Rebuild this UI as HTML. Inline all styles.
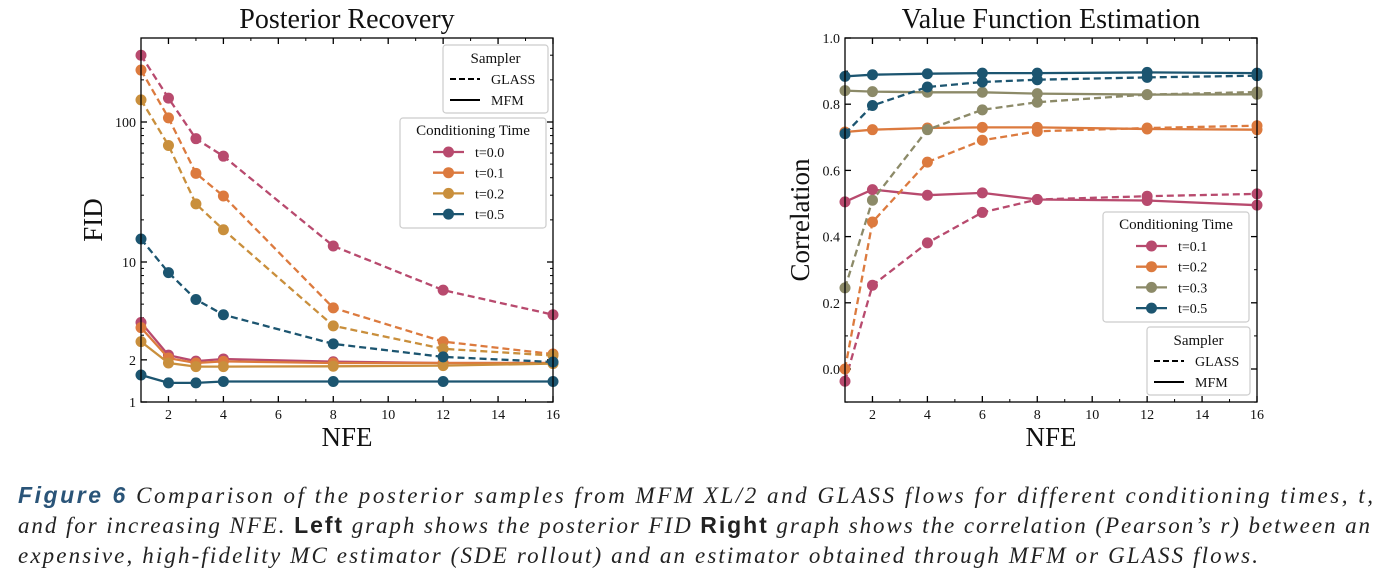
<!DOCTYPE html>
<html><head><meta charset="utf-8"><style>
body{margin:0;background:#fff}
svg{display:block;font-family:"Liberation Serif",serif}
</style></head><body>
<svg id="fig" width="1388" height="578" viewBox="0 0 1388 578" xmlns="http://www.w3.org/2000/svg">
<g id="left"></g>
<g id="right"></g>
<g font-size="23" font-style="italic" fill="#222" font-family="Liberation Serif, serif">
<text x="18" y="503" textLength="1355" lengthAdjust="spacing"><tspan font-family="Liberation Sans, sans-serif" font-weight="bold" fill="#2a5478">Figure 6</tspan>   Comparison of the posterior samples from MFM XL/2 and GLASS flows for different conditioning times, t,</text>
<text x="18" y="533" textLength="1352" lengthAdjust="spacing">and for increasing NFE. <tspan font-family="Liberation Sans, sans-serif" font-weight="bold" font-style="normal">Left</tspan> graph shows the posterior FID <tspan font-family="Liberation Sans, sans-serif" font-weight="bold" font-style="normal">Right</tspan> graph shows the correlation (Pearson’s r) between an</text>
<text x="18" y="563" textLength="1240" lengthAdjust="spacing">expensive, high-fidelity MC estimator (SDE rollout) and an estimator obtained through MFM or GLASS flows.</text>
</g>
</svg>
<script>
const nfeL=[1,2,3,4,8,12,16];
const leftLabels=["t=0.0","t=0.1","t=0.2","t=0.5"];
const leftGlass=[[300,148,76,57,13,6.3,4.2],[235,107,43,29.6,4.7,2.7,2.2],[144,68,26,17,3.5,2.4,2.15],[14.6,8.4,5.4,4.2,2.6,2.1,1.93]];
const leftMfm=[[3.7,2.16,1.96,2.03,1.94,1.9,1.9],[3.4,2.06,1.9,1.95,1.9,1.9,1.9],[2.7,1.9,1.79,1.79,1.8,1.82,1.88],[1.56,1.37,1.37,1.4,1.4,1.4,1.4]];
const leftColors=["#b84a6e","#dc7a3e","#c98f3c","#1c5570"];
const nfeR=[1,2,4,6,8,12,16];
const rightLabels=["t=0.1","t=0.2","t=0.3","t=0.5"];
const rightGlass=[[-0.037,0.253,0.381,0.473,0.512,0.522,0.529],[0.0,0.444,0.625,0.691,0.718,0.728,0.735],[0.245,0.51,0.723,0.783,0.806,0.829,0.837],[0.711,0.796,0.852,0.867,0.874,0.881,0.886]];
const rightMfm=[[0.505,0.542,0.525,0.532,0.512,0.509,0.495],[0.716,0.723,0.728,0.73,0.73,0.725,0.723],[0.841,0.838,0.836,0.836,0.832,0.829,0.83],[0.884,0.889,0.892,0.894,0.894,0.896,0.894]];
const rightColors=["#b84a6e","#dc7a3e","#8c8a68","#1c5570"];
const xTicks=[2,4,6,8,10,12,14,16];
const NS="http://www.w3.org/2000/svg";
function mk(p,tag,at){const e=document.createElementNS(NS,tag);for(const k in at)e.setAttribute(k,at[k]);p.appendChild(e);return e;}
function txt(p,x,y,s,size,anchor,extra){const t=mk(p,"text",Object.assign({x:x,y:y,"font-size":size,"text-anchor":anchor||"middle",fill:"#111"},extra||{}));t.textContent=s;return t;}

function chart(g,o){
  const X=v=>o.x0+(v-1)/(15)*(o.x1-o.x0);
  const Y=o.Y;
  xTicks.forEach(v=>{const x=X(v);
    const l=mk(g,"line",{x1:x,x2:x,y1:o.y1,y2:o.y1-6,stroke:"#000","stroke-width":1.3});
    
    
    mk(g,"line",{x1:x,x2:x,y1:o.y0,y2:o.y0+6,stroke:"#000","stroke-width":1.3});
    const t=txt(g,x,o.y1+17,String(v),14);
    
    
  });
  for(let v=1;v<=16;v++){if(v%2===1){const x=X(v);mk(g,"line",{x1:x,x2:x,y1:o.y1,y2:o.y1-3,stroke:"#000"});mk(g,"line",{x1:x,x2:x,y1:o.y0,y2:o.y0+3,stroke:"#000"});}}
  o.yTicks.forEach(tk=>{const y=Y(tk.v);
    mk(g,"line",{x1:o.x0,x2:o.x0+6,y1:y,y2:y,stroke:"#000","stroke-width":1.3});
    mk(g,"line",{x1:o.x1,x2:o.x1-6,y1:y,y2:y,stroke:"#000","stroke-width":1.3});
    const t=txt(g,o.x0-5,y+5,tk.s,14,"end");
    
    
  });
  (o.minor||[]).forEach(v=>{const y=Y(v);mk(g,"line",{x1:o.x0,x2:o.x0+3,y1:y,y2:y,stroke:"#000"});mk(g,"line",{x1:o.x1,x2:o.x1-3,y1:y,y2:y,stroke:"#000"});});
  const cp=mk(g,"clipPath",{id:o.id+"clip"});mk(cp,"rect",{x:o.x0-8,y:o.y0,width:o.x1-o.x0+16,height:o.y1-o.y0});
  const sg=mk(g,"g",{"clip-path":"url(#"+o.id+"clip)"});
  function series(vals,color,dash,name){
    const pts=vals.map((v,i)=>X(o.nfe[i]).toFixed(1)+","+Y(v).toFixed(1)).join(" ");
    const pl=mk(sg,"polyline",{points:pts,fill:"none",stroke:color,"stroke-width":2.3,"stroke-dasharray":dash?"7,4":"none"});
    
    
    vals.forEach((v,i)=>{const c=mk(sg,"circle",{cx:X(o.nfe[i]),cy:Y(v),r:5.5,fill:color});
      
      });
  }
  o.mfm.forEach((s,k)=>series(s,o.colors[k],false,"mfm-"+o.labels[k]));
  o.glass.forEach((s,k)=>series(s,o.colors[k],true,"glass-"+o.labels[k]));
  const fr=mk(g,"rect",{x:o.x0,y:o.y0,width:o.x1-o.x0,height:o.y1-o.y0,fill:"none",stroke:"#000","stroke-width":1.3});
  
  
  const ti=txt(g,(o.x0+o.x1)/2,28,o.title,28);
  
  
  const xl=txt(g,(o.x0+o.x1)/2,446,"NFE",27);
  
  
  const yl=txt(g,0,0,o.ylab,27,"middle",{transform:"translate("+o.ylx+",220) rotate(-90)"});
  
  
  function samplerLegend(x,y,w){
    const lg=mk(g,"g",{});
    
    
    mk(lg,"rect",{x:x,y:y,width:w,height:68,rx:3,fill:"#fff",stroke:"#ccc","stroke-width":1.2});
    txt(lg,x+w/2,y+18,"Sampler",15);
    mk(lg,"line",{x1:x+7,x2:x+37,y1:y+34,y2:y+34,stroke:"#000","stroke-width":2,"stroke-dasharray":"6,3"});
    txt(lg,x+48,y+39,"GLASS",14,"start");
    mk(lg,"line",{x1:x+7,x2:x+37,y1:y+55,y2:y+55,stroke:"#000","stroke-width":2});
    txt(lg,x+48,y+60,"MFM",14,"start");
  }
  function condLegend(x,y){
    const lg=mk(g,"g",{});
    
    
    mk(lg,"rect",{x:x,y:y,width:146,height:110,rx:3,fill:"#fff",stroke:"#ccc","stroke-width":1.2});
    txt(lg,x+73,y+17,"Conditioning Time",15);
    o.labels.forEach((s,k)=>{const yy=y+34+k*20.7;
      const e=mk(lg,"line",{x1:x+33,x2:x+64,y1:yy,y2:yy,stroke:o.colors[k],"stroke-width":2.3});
      
      
      mk(lg,"circle",{cx:x+48.5,cy:yy,r:5.5,fill:o.colors[k]});
      txt(lg,x+75,yy+5,s,14,"start");});
  }
  o.legends(samplerLegend,condLegend);
}
const lg10=Math.log10;
chart(document.getElementById("left"),{id:"L",x0:141,x1:553,y0:38,y1:402,nfe:nfeL,
  Y:v=>402-lg10(v)*140,
  yTicks:[{v:1,s:"1"},{v:2,s:"2"},{v:10,s:"10"},{v:100,s:"100"}],
  minor:[3,4,5,6,7,8,9,20,30,40,50,60,70,80,90,200,300],
  glass:leftGlass,mfm:leftMfm,colors:leftColors,labels:leftLabels,title:"Posterior Recovery",ylab:"FID",ylx:102,
  legends:(s,c)=>{s(443,45,105);c(400,118);}});
chart(document.getElementById("right"),{id:"R",x0:845,x1:1257,y0:38,y1:402,nfe:nfeR,
  Y:v=>369-v*331,
  yTicks:[0,0.2,0.4,0.6,0.8,1.0].map(v=>({v:v,s:v.toFixed(1)})),
  minor:[-0.1,0.1,0.3,0.5,0.7,0.9],
  glass:rightGlass,mfm:rightMfm,colors:rightColors,labels:rightLabels,title:"Value Function Estimation",ylab:"Correlation",ylx:809,
  legends:(s,c)=>{c(1103,212);s(1147,327,103);}});
</script>
</body></html>
